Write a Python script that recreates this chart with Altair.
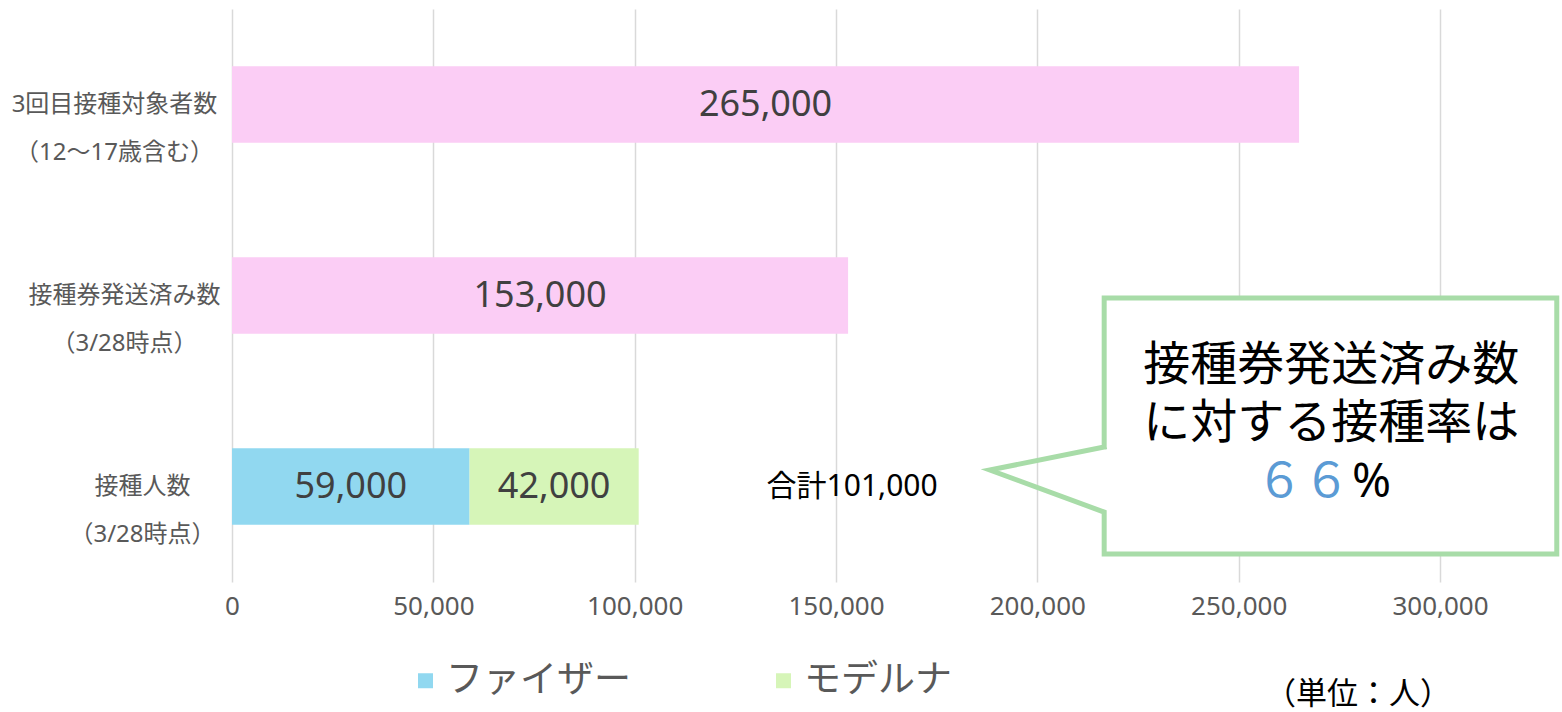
import altair as alt
import pandas as pd

# ---------------- data ----------------
CATEGORIES = ["対象者数", "発送済み数", "接種人数"]
AXIS_LINES = {
    "対象者数": ["3回目接種対象者数", "（12～17歳含む）"],
    "発送済み数": ["接種券発送済み数", "（3/28時点）"],
    "接種人数": ["接種人数", "（3/28時点）"],
}
BAR_CATEGORY = ["対象者数", "発送済み数", "接種人数", "接種人数"]
BAR_SERIES = ["総数", "総数", "ファイザー", "モデルナ"]
BAR_VALUE = [265000, 153000, 59000, 42000]
BAR_STACK = [0, 0, 0, 1]

SERIES_DOMAIN = ["ファイザー", "モデルナ", "総数"]
SERIES_COLORS = ["#91D8F0", "#D6F5B8", "#FBCDF5"]
LEGEND_VALUES = ["ファイザー", "モデルナ"]

X_TICKS = [0, 50000, 100000, 150000, 200000, 250000, 300000]
X_DOMAIN = [0, 300000]

TOTAL_VALUE = sum(v for c, v in zip(BAR_CATEGORY, BAR_VALUE) if c == "接種人数")
TOTAL_LABEL = "合計" + f"{TOTAL_VALUE:,}"
TOTAL_X = 154000

# callout (x in data units, y in row units: 0 = top, 3 = bottom)
CALLOUT_X = [216600, 216600, 329000, 329000, 216600, 216600, 188200, 216600]
CALLOUT_Y = [2.293, 1.513, 1.513, 2.853, 2.853, 2.634, 2.414, 2.293]
BOX_X = [216600, 329000]
BOX_Y = [1.513, 2.853]
CALLOUT_LINES = ["接種券発送済み数", "に対する接種率は"]
CALLOUT_LINES_Y = [1.869, 2.175]
CALLOUT_LINES_X = 273000
RATE_DIGITS = "６６"
RATE_SUFFIX = "%"
RATE_Y = 2.484
RATE_DIGITS_X = 277650
RATE_SUFFIX_X = 278150
UNIT_LABEL = "（単位：人）"

FONT_NUM = "Noto Sans, Noto Sans CJK JP"
FONT_JP = "Noto Sans CJK JP"
GRAY = "#595959"
GREEN_LINE = "#A8DCA8"

# ---------------- frames ----------------
df = pd.DataFrame({
    "category": BAR_CATEGORY,
    "series": BAR_SERIES,
    "value": BAR_VALUE,
    "stack": BAR_STACK,
})

label_expr = " : ".join(
    f"datum.value == '{k}' ? ['{v[0]}', '{v[1]}']" for k, v in AXIS_LINES.items()
) + " : datum.label"

xscale = alt.Scale(domain=X_DOMAIN, nice=False, zero=True)
yband = alt.Scale(domain=CATEGORIES, paddingInner=0.6, paddingOuter=0.3)

x_axis = alt.Axis(
    title=None, values=X_TICKS, labelExpr="format(datum.value, ',')",
    domain=False, ticks=False,
    grid=True, gridColor="#D9D9D9", gridWidth=1.5,
    labelFontSize=26, labelFont=FONT_NUM, labelColor=GRAY,
    labelPadding=11, labelFlush=False,
)

y_enc = alt.Y(
    "category:N",
    sort=CATEGORIES,
    scale=yband,
    axis=alt.Axis(
        title=None, domain=False, ticks=False, labelExpr=label_expr,
        labelAlign="center", labelBaseline="middle",
        labelPadding={
            "condition": [
                {"test": f"datum.value == '{CATEGORIES[0]}'", "value": 118},
                {"test": f"datum.value == '{CATEGORIES[1]}'", "value": 108},
            ],
            "value": 90,
        },
        labelFontSize=24, labelFont=FONT_NUM, labelColor=GRAY,
        labelLineHeight=48, labelLimit=400,
    ),
)

base = alt.Chart(df)

bars = base.mark_bar().encode(
    y=y_enc,
    x=alt.X("value:Q", stack="zero", scale=xscale, axis=x_axis),
    color=alt.Color(
        "series:N",
        scale=alt.Scale(domain=SERIES_DOMAIN, range=SERIES_COLORS),
        legend=alt.Legend(
            values=LEGEND_VALUES, title=None, orient="none",
            legendX=175, legendY=653, direction="horizontal",
            symbolType="square", symbolSize=225, symbolStrokeWidth=0,
            labelFontSize=37, labelFont=FONT_JP, labelColor=GRAY,
            labelOffset=2, columnPadding=134, padding=0, labelLimit=400,
        ),
    ),
    order=alt.Order("stack:Q"),
)

bar_text = base.transform_stack(
    stack="value", groupby=["category"], as_=["v0", "v1"],
    sort=[alt.SortField("stack", order="ascending")],
).transform_calculate(
    mid="(datum.v0 + datum.v1) / 2"
).mark_text(
    fontSize=36, font=FONT_NUM, color="#404040", baseline="middle", align="center"
).encode(
    y=alt.Y("category:N", sort=CATEGORIES, scale=yband),
    x=alt.X("mid:Q", scale=xscale, axis=x_axis),
    text=alt.Text("value:Q", format=","),
)

total_df = pd.DataFrame({"category": ["接種人数"], "x": [TOTAL_X], "t": [TOTAL_LABEL]})
total_text = alt.Chart(total_df).mark_text(
    fontSize=30, font=FONT_NUM, color="#000000", baseline="middle", align="center"
).encode(
    y=alt.Y("category:N", sort=CATEGORIES, scale=yband),
    x=alt.X("x:Q", scale=xscale, axis=x_axis),
    text="t:N",
)

inner = alt.layer(bars, bar_text, total_text)

# ---------------- callout ----------------
rscale = alt.Scale(domain=[0, 3], reverse=True, nice=False, zero=False)

box_df = pd.DataFrame({"x": [BOX_X[0]], "x2": [BOX_X[1]], "y": [BOX_Y[0]], "y2": [BOX_Y[1]]})
box = alt.Chart(box_df).mark_rect(color="white").encode(
    x=alt.X("x:Q", scale=xscale, axis=x_axis),
    x2="x2:Q",
    y=alt.Y("y:Q", scale=rscale, axis=None),
    y2="y2:Q",
)

outline_df = pd.DataFrame({"x": CALLOUT_X, "y": CALLOUT_Y, "i": list(range(len(CALLOUT_X)))})
outline = alt.Chart(outline_df).mark_line(
    color=GREEN_LINE, strokeWidth=5, strokeJoin="miter", strokeCap="square"
).encode(
    x=alt.X("x:Q", scale=xscale, axis=x_axis),
    y=alt.Y("y:Q", scale=rscale, axis=None),
    order="i:Q",
)

lines_df = pd.DataFrame({"t": CALLOUT_LINES, "y": CALLOUT_LINES_Y, "x": [CALLOUT_LINES_X] * len(CALLOUT_LINES)})
callout_text = alt.Chart(lines_df).mark_text(
    fontSize=47, font=FONT_JP, color="#000000", baseline="middle", align="center"
).encode(
    x=alt.X("x:Q", scale=xscale, axis=x_axis),
    y=alt.Y("y:Q", scale=rscale, axis=None),
    text="t:N",
)

digits_df = pd.DataFrame({"t": [RATE_DIGITS], "y": [RATE_Y], "x": [RATE_DIGITS_X]})
digits_text = alt.Chart(digits_df).mark_text(
    fontSize=47, font=FONT_JP, color="#5B9BD5", baseline="middle", align="right"
).encode(
    x=alt.X("x:Q", scale=xscale, axis=x_axis),
    y=alt.Y("y:Q", scale=rscale, axis=None),
    text="t:N",
)

suffix_df = pd.DataFrame({"t": [RATE_SUFFIX], "y": [RATE_Y], "x": [RATE_SUFFIX_X]})
suffix_text = alt.Chart(suffix_df).mark_text(
    fontSize=47, font=FONT_NUM, color="#000000", baseline="middle", align="left"
).encode(
    x=alt.X("x:Q", scale=xscale, axis=x_axis),
    y=alt.Y("y:Q", scale=rscale, axis=None),
    text="t:N",
)

unit_df = pd.DataFrame({"t": [UNIT_LABEL]})
unit_text = alt.Chart(unit_df).mark_text(
    fontSize=31, font=FONT_JP, color="#000000", baseline="middle", align="left"
).encode(
    x=alt.value(1033),
    y=alt.value(686),
    text="t:N",
)

callout = alt.layer(box, outline, callout_text, digits_text, suffix_text, unit_text)

chart = alt.layer(inner, callout).resolve_scale(y="independent").properties(
    width=1208,
    height=573,
    autosize="none",
    padding={"left": 232, "top": 9, "right": 122, "bottom": 130},
).configure(background="white", view=alt.ViewConfig(strokeWidth=0, stroke=None))

chart.save("out.html", embed_options={"renderer": "svg", "actions": False})
